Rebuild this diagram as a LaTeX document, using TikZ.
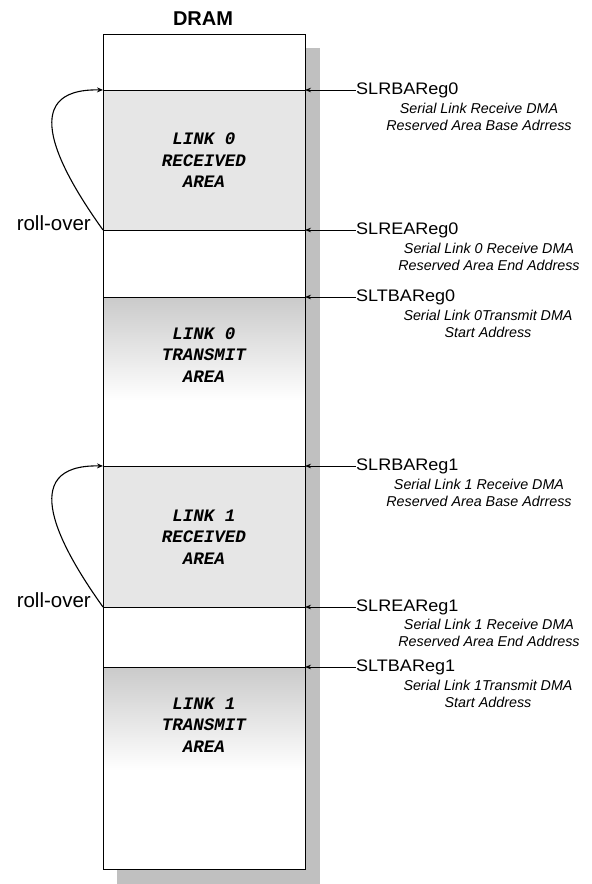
\documentclass[tikz,border=0pt]{standalone}
\usepackage{fontspec}
\setmainfont{Liberation Sans}
\newfontfamily\areafont{Liberation Mono}
\newfontfamily\regfont[FakeStretch=1.08]{Liberation Sans}
\usetikzlibrary{arrows.meta}
\definecolor{shadowgray}{HTML}{C0C0C0}
\definecolor{recvgray}{HTML}{E6E6E6}
\definecolor{xmitgray}{HTML}{CACACA}
\tikzset{
  reg/.style={anchor=west, inner sep=0pt, font=\fontsize{16.7}{18}\selectfont\regfont},
  desc/.style={inner sep=0pt, align=center, font=\fontsize{14.3}{16.8}\selectfont\itshape},
  areatext/.style={inner sep=0pt, align=center, font=\fontsize{17.5}{21.5}\selectfont\areafont\bfseries\itshape},
  rolltext/.style={anchor=base east, inner sep=0pt, font=\fontsize{20.5}{22}\selectfont},
  ptr/.style={-{Stealth[length=6pt,width=4.5pt]}, line width=0.7pt},
  roll/.style={-{Stealth[length=6pt,width=5pt]}, line width=1.1pt},
  divider/.style={line width=0.8pt},
}
\begin{document}
\begin{tikzpicture}[x=1pt,y=-1pt]
\useasboundingbox (0,0) rectangle (592,884);
% title
\node[font=\fontsize{20}{22}\selectfont\bfseries] (title) at (203,18.5) {DRAM};
% shadow and box
\fill[shadowgray] (117,48) rectangle (320,884);
\fill[white] (103,34) rectangle (305,869);
\fill[recvgray] (103,90) rectangle (305,230);
\fill[recvgray] (103,466) rectangle (305,607);
\shade[top color=xmitgray, bottom color=white] (103,297) rectangle (305,400);
\shade[top color=xmitgray, bottom color=white] (103,667) rectangle (305,770);
\node[draw, line width=0.8pt, minimum width=202pt, minimum height=835pt, inner sep=0pt, anchor=north west] (dram) at (103,34) {};
% divider coordinates (left / right)
\coordinate (l1) at (103,90);  \coordinate (r1) at (305,90);
\coordinate (l2) at (103,230); \coordinate (r2) at (305,230);
\coordinate (l3) at (103,297); \coordinate (r3) at (305,297);
\coordinate (l4) at (103,466); \coordinate (r4) at (305,466);
\coordinate (l5) at (103,607); \coordinate (r5) at (305,607);
\coordinate (l6) at (103,667); \coordinate (r6) at (305,667);
\foreach \i in {1,...,6} { \draw[divider] (l\i) -- (r\i); }
% area texts
\node[areatext] (a1) at (204,160.5) {LINK 0\\RECEIVED\\AREA};
\node[areatext] (a2) at (204,355) {LINK 0\\TRANSMIT\\AREA};
\node[areatext] (a3) at (204,537) {LINK 1\\RECEIVED\\AREA};
\node[areatext] (a4) at (204,725) {LINK 1\\TRANSMIT\\AREA};
% register labels
\node[reg] (g1) at (356,90) {SLRBAReg0};
\node[reg] (g2) at (356,230) {SLREAReg0};
\node[reg] (g3) at (356,297) {SLTBAReg0};
\node[reg] (g4) at (356,466) {SLRBAReg1};
\node[reg] (g5) at (356,607) {SLREAReg1};
\node[reg] (g6) at (356,667) {SLTBAReg1};
\foreach \i in {1,...,6} { \draw[ptr] (g\i.west) -- (r\i); }
% descriptions
\node[desc] (d1) at (479,116.5) {Serial Link Receive DMA\\Reserved Area Base Adrress};
\node[desc] (d2) at (489,257) {Serial Link 0 Receive DMA\\Reserved Area End Address};
\node[desc] (d3) at (488,323.5) {Serial Link 0Transmit DMA\\Start Address};
\node[desc] (d4) at (479,492.5) {Serial Link 1 Receive DMA\\Reserved Area Base Adrress};
\node[desc] (d5) at (489,633) {Serial Link 1 Receive DMA\\Reserved Area End Address};
\node[desc] (d6) at (488,694) {Serial Link 1Transmit DMA\\Start Address};
% roll-over
\node[rolltext] (ro1) at (91,230) {roll-over};
\node[rolltext] (ro2) at (91,607) {roll-over};
\draw[roll] (l2) .. controls (60,170) and (15,88) .. (l1);
\draw[roll] (l5) .. controls (60,547) and (15,464) .. (l4);
\end{tikzpicture}
\end{document}
